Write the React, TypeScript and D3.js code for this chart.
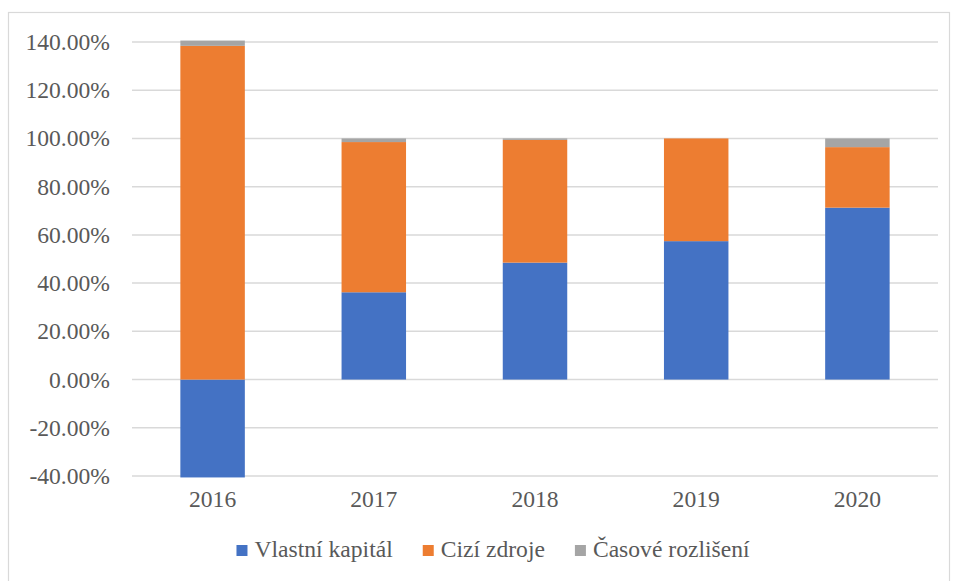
import React, { useLayoutEffect, useRef, useState } from 'react';
import * as d3 from 'd3';

const years = ['2016', '2017', '2018', '2019', '2020'];
const seriesNames = ['Vlastní kapitál', 'Cizí zdroje', 'Časové rozlišení'];
const vlastniKapital = [-40.6, 36.2, 48.5, 57.4, 71.3];
const ciziZdroje = [138.4, 62.3, 50.9, 42.6, 25.1];
const casoveRozliseni = [2.2, 1.5, 0.6, 0, 3.6];
const yTicks = [-40, -20, 0, 20, 40, 60, 80, 100, 120, 140];
const colors = ['#4472c4', '#ed7d31', '#a5a5a5'];

const width = 954;
const height = 581;
const plot = { left: 132, right: 938, top: 42, bottom: 476 };
const font = 'Liberation Serif';
const textColor = '#595959';
const fontSize = 23.6;

const fmt = d3.formatLocale({ decimal: '.', thousands: ',', grouping: [3], currency: ['', ''], minus: '-' }).format('.2f');

const App = () => {
  const textRefs = useRef<(SVGTextElement | null)[]>([]);
  const [widths, setWidths] = useState<number[]>(seriesNames.map(() => 130));

  useLayoutEffect(() => {
    const w = textRefs.current.map(t => (t ? t.getComputedTextLength() : 130));
    setWidths(w);
  }, []);

  const rows = years.map((year, i) => ({
    year,
    [seriesNames[0]]: vlastniKapital[i],
    [seriesNames[1]]: ciziZdroje[i],
    [seriesNames[2]]: casoveRozliseni[i],
  }));

  const x = d3.scaleBand()
    .domain(years)
    .range([plot.left, plot.right])
    .paddingInner(0.6)
    .paddingOuter(0.3);

  const y = d3.scaleLinear()
    .domain([-40, 140])
    .range([plot.bottom, plot.top]);

  const stacked = d3.stack<any>()
    .keys(seriesNames)
    .offset(d3.stackOffsetDiverging)(rows);

  // legend layout
  const swatch = 11;
  const textGap = 7;
  const itemGap = 30;
  const itemW = widths.map(w => swatch + textGap + w);
  const total = d3.sum(itemW) + itemGap * (itemW.length - 1);
  let cursor = 493 - total / 2;
  const legendX = itemW.map(w => {
    const px = cursor;
    cursor += w + itemGap;
    return px;
  });

  return (
    <svg
      width={width}
      height={height}
      style={{ position: 'absolute', left: 0, top: 0, background: '#fff' }}
    >
      {/* outer frame */}
      <rect x={8.5} y={12.5} width={941} height={600} fill="#fff" stroke="#d9d9d9" strokeWidth={1.2} />

      {/* gridlines */}
      <g>
        {yTicks.map(t => (
          <line key={t} x1={plot.left} x2={plot.right} y1={y(t)} y2={y(t)} stroke="#d9d9d9" strokeWidth={1.5} />
        ))}
      </g>

      {/* y tick labels */}
      <g fontFamily={font} fontSize={fontSize} fill={textColor} textAnchor="end">
        {yTicks.map(t => (
          <text key={t} x={110} y={y(t) + 8}>{fmt(t) + '%'}</text>
        ))}
      </g>

      {/* stacked bars */}
      {stacked.map((layer, i) => (
        <g key={layer.key} fill={colors[i]}>
          {layer.map(d => (
            <rect
              key={d.data.year}
              x={x(d.data.year)}
              width={x.bandwidth()}
              y={y(Math.max(d[0], d[1]))}
              height={Math.abs(y(d[0]) - y(d[1]))}
            />
          ))}
        </g>
      ))}

      {/* x labels */}
      <g fontFamily={font} fontSize={fontSize} fill={textColor} textAnchor="middle">
        {years.map(yr => (
          <text key={yr} x={(x(yr) ?? 0) + x.bandwidth() / 2} y={507}>{yr}</text>
        ))}
      </g>

      {/* legend */}
      <g fontFamily={font} fontSize={fontSize} fill={textColor}>
        {seriesNames.map((name, i) => (
          <g key={name} transform={`translate(${legendX[i]},557)`}>
            <rect x={0} y={-12} width={swatch} height={swatch} fill={colors[i]} />
            <text ref={el => { textRefs.current[i] = el; }} x={swatch + textGap} y={0}>{name}</text>
          </g>
        ))}
      </g>
    </svg>
  );
};

export default App;
